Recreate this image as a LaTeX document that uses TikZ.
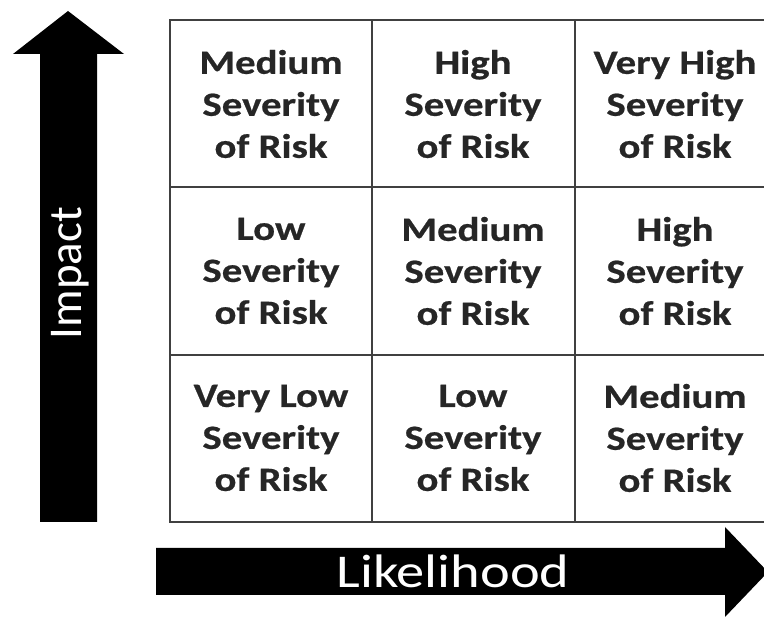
\documentclass[tikz,border=0pt]{standalone}
\usepackage{fontspec}
\setmainfont{Carlito}
\newfontfamily\cellfont[FakeStretch=1.2,FakeBold=0.6]{Carlito Bold}
\newfontfamily\widefont[FakeStretch=1.2]{Carlito}
\begin{document}
\begin{tikzpicture}[x=1pt,y=-1pt,
    cell/.style={align=center,text=black!85,font=\cellfont\fontsize{34}{42}\selectfont},
    axislabel/.style={text=white,font=\fontsize{47}{50}\selectfont},
    gridline/.style={line width=2.5pt,black!75}]
    \useasboundingbox (0,0) rectangle (764,617);
    % arrows
    \fill (40,522) -- (40,54) -- (13,54) -- (68,11) -- (124,54) -- (97,54) -- (97,522) -- cycle;
    \fill (156,548) -- (725,548) -- (725,527) -- (768,572) -- (725,617) -- (725,595) -- (156,595) -- cycle;
    \node[axislabel,rotate=90] (impact) at (70,273) {Impact};
    \node[axislabel,font=\widefont\fontsize{47}{50}\selectfont] (likelihood) at (453,571) {Likelihood};
    % grid
    \draw[gridline] (170,20) rectangle (777,522);
    \foreach \x in {372,575} \draw[gridline] (\x,20) -- (\x,522);
    \foreach \y in {187,355} \draw[gridline] (170,\y) -- (777,\y);
    \foreach \c/\r/\lab in {0/0/Medium, 1/0/High, 2/0/Very High,
        0/1/Low, 1/1/Medium, 2/1/High,
        0/2/Very Low, 1/2/Low, 2/2/Medium}
        \node[cell] (cell\c\r) at ({271+202*\c},{104+167*\r}) {\lab\\Severity\\of Risk};
\end{tikzpicture}
\end{document}
